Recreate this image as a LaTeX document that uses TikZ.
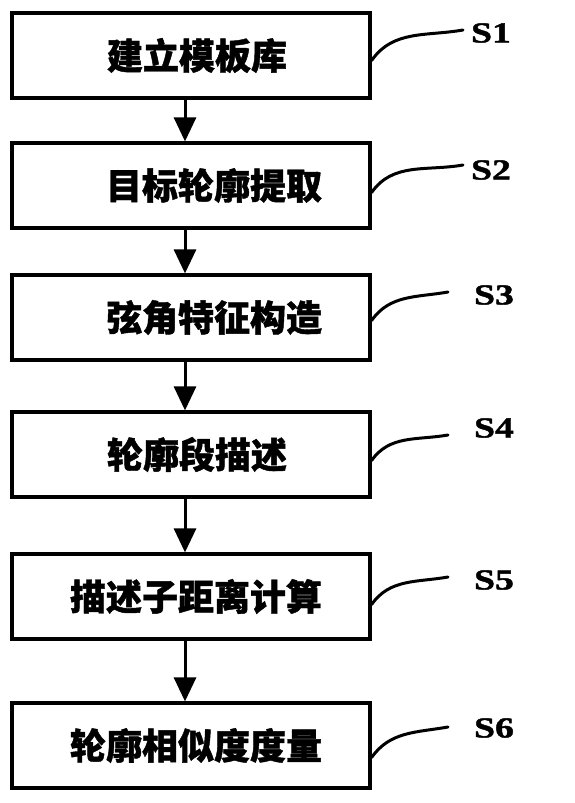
\documentclass[tikz,border=0pt]{standalone}
\usepackage{fontspec}
\newfontfamily\cjk[FakeBold=1.2]{Noto Sans CJK SC}
\newfontfamily\stepfont[FakeStretch=1.3, FakeBold=1.5]{Liberation Serif}
\usepackage{tikz}
\usetikzlibrary{arrows.meta,positioning}

\begin{document}
\begin{tikzpicture}[x=1pt, y=1pt,
  caja/.style={draw=black, line width=3.2pt, minimum width=358pt,
               minimum height=85pt, inner sep=0pt,
               font=\cjk\bfseries\fontsize{36}{38}\selectfont},
  flecha/.style={line width=3pt, -{Triangle[width=22pt,length=24pt]}},
  guia/.style={line width=3pt, line cap=round},
  etiq/.style={font=\stepfont\bfseries\fontsize{29}{32}\selectfont, inner sep=0pt},
]
  \useasboundingbox (0,0) rectangle (574,-803);

  % Pasos del proceso
  \node[caja] (s1) at (191, -55.5)  {\hspace*{12pt}建立模板库};
  \node[caja] (s2) at (191, -185.5) {\hspace*{46pt}目标轮廓提取};
  \node[caja] (s3) at (191, -317.5) {\hspace*{46pt}弦角特征构造};
  \node[caja] (s4) at (191, -454.5) {\hspace*{12pt}轮廓段描述};
  \node[caja] (s5) at (191, -596.5) {\hspace*{10pt}描述子距离计算};
  \node[caja] (s6) at (191, -745.5) {\hspace*{10pt}轮廓相似度度量};

  % Flechas entre pasos
  \draw[flecha] ([xshift=-6pt]s1.south) -- ([xshift=-6pt]s2.north);
  \draw[flecha] ([xshift=-6pt]s2.south) -- ([xshift=-6pt]s3.north);
  \draw[flecha] ([xshift=-6pt]s3.south) -- ([xshift=-6pt]s4.north);
  \draw[flecha] ([xshift=-6pt]s4.south) -- ([xshift=-6pt]s5.north);
  \draw[flecha] ([xshift=-6pt]s5.south) -- ([xshift=-6pt]s6.north);

  % Etiquetas S1--S6
  \node[etiq] (e1) at (491, -33)  {S1};
  \node[etiq] (e2) at (491, -170) {S2};
  \node[etiq] (e3) at (494, -295) {S3};
  \node[etiq] (e4) at (494, -428) {S4};
  \node[etiq] (e5) at (494, -580) {S5};
  \node[etiq] (e6) at (494, -728) {S6};

  % Extremos libres de las guias
  \coordinate (g1) at (463, -30);
  \coordinate (g2) at (463, -165);
  \coordinate (g3) at (448, -292);
  \coordinate (g4) at (448, -435);
  \coordinate (g5) at (448, -577);
  \coordinate (g6) at (448, -727);

  % Guias curvas desde la caja
  \draw[guia] ([yshift=-5pt]s1.east)  to[out=55, in=190] (g1);
  \draw[guia] ([yshift=-7pt]s2.east)  to[out=55, in=190] (g2);
  \draw[guia] ([yshift=-3pt]s3.east)  to[out=55, in=190] (g3);
  \draw[guia] ([yshift=-6pt]s4.east)  to[out=55, in=190] (g4);
  \draw[guia] ([yshift=-8pt]s5.east)  to[out=55, in=190] (g5);
  \draw[guia] ([yshift=-12pt]s6.east) to[out=55, in=190] (g6);
\end{tikzpicture}
\end{document}
